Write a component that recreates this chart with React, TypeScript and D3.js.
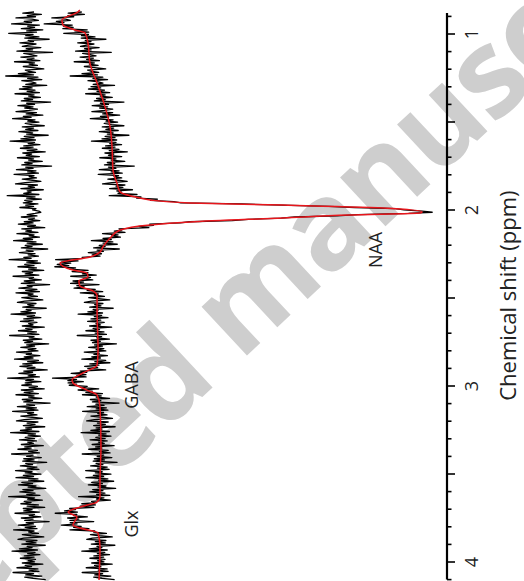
import React from "react";
import * as d3 from "d3";

const W = 524;
const H = 581;

// Fitted spectrum (red): chemical shift (ppm) and amplitude (a.u., NAA peak ≈ 100)
const fitPpm = [0.864, 0.875, 0.92, 0.949, 0.977, 0.994, 1.051, 1.165, 1.278, 1.375, 1.528, 1.642, 1.773, 1.847, 1.898, 1.932, 1.943, 1.96, 1.972, 1.989, 2.011, 2.017, 2.028, 2.045, 2.068, 2.085, 2.114, 2.159, 2.21, 2.239, 2.267, 2.301, 2.341, 2.358, 2.381, 2.403, 2.432, 2.46, 2.489, 2.568, 2.795, 2.881, 2.926, 2.966, 2.983, 3.023, 3.051, 3.119, 3.347, 3.534, 3.631, 3.659, 3.688, 3.716, 3.744, 3.79, 3.807, 3.835, 3.915, 4.102];
const fitAmp = [-6.2, -6.8, -11.7, -11.4, -7.7, -4.6, -3.7, -3.1, -0.9, 0.9, 3.1, 3.7, 4.0, 5.2, 6.2, 12.3, 15.4, 27.7, 56.3, 87.1, 99.1, 98.5, 76.9, 56.3, 27.7, 15.4, 6.2, 3.1, 0.9, 0.0, -3.1, -12.3, -8.3, -4.0, -3.7, -6.5, -6.2, -2.2, -0.9, -0.9, -0.6, -0.9, -5.2, -8.6, -8.3, -4.0, -0.9, 0.0, 0.3, 0.0, 0.0, -0.9, -6.2, -9.8, -7.1, -8.3, -6.2, -0.6, 0.0, -0.3];

// Residual (data − fit), sampled evenly from residualStart to residualEnd ppm,
// listed in units of residualUnit a.u.
const residualStart = 0.875;
const residualEnd = 4.1;
const residualOffset = -21.5;
const residualUnit = 1.5;
const residual = [
  0.8, -1.5, 2.3, -0.6, 1.1, -2.9, 0.4, 1.7, -1.2, 0.3, -3.8, 1.9, -0.5, 0.9, -1.8, 2.6, -0.7, 1.3, -4.4, 0.6,
  -0.9, 1.8, -1.1, 3.9, -0.4, 0.7, -2.1, 1.2, -0.3, -1.6, 2.2, -0.8, 0.5, -2.7, 4.6, -1.3, 0.2, 1.4, -1.9, 0.8,
  -0.6, 2.0, -3.2, 0.9, -0.2, 1.5, -1.4, 0.6, 2.8, -1.0, -0.4, 1.1, -2.4, 0.7, -5.0, 1.6, -0.5, 2.4, -1.7, 0.3,
  1.2, -0.9, 3.4, -1.5, 0.4, -2.2, 1.0, -0.6, 1.9, -3.1, 0.8, -0.3, 2.1, -1.2, 0.5, -1.8, 4.2, -0.7, 0.9, -2.5,
  0.6, -1.1, 1.5, -0.2, -2.9, 1.3, -0.8, 2.6, -1.4, 0.2, -3.6, 1.0, -0.5, 1.8, -1.0, 0.4, 2.9, -1.6, 0.7, -0.9,
  1.6, -2.3, 0.5, -0.7, 3.7, -1.2, 0.8, -1.9, 1.1, -4.1, 0.9, -0.4, 2.0, -1.3, 0.6, -2.0, 1.4, -0.6, 3.1, -1.5,
  0.3, -0.8, 1.9, -2.6, 0.7, -0.3, 2.5, -1.1, 0.4, -1.7, 4.4, -0.9, 0.6, -2.8, 1.2, -0.5, 1.7, -3.3, 0.8, -0.2,
  1.3, -1.6, 0.5, 2.2, -1.0, -3.0, 1.5, -0.4, 0.9, -1.9, 2.7, -0.6, 0.2, -1.3, 1.8, -4.7, 1.0, -0.7, 2.3, -1.1,
  0.4, -1.4, 1.6, -0.9, 0.7, -2.1, 1.2, 0.5, 1.8, 2.2, 1.0, -0.6, 1.4, -1.8, 0.9, -0.3, 2.0, -1.2, 0.6, -2.4,
  1.1, -0.5, 3.0, -1.7, 0.3, -0.9, 1.6, -2.7, 0.8, -0.2, 1.9, -1.4, 0.5, -3.4, 1.2, -0.6, 2.5, -1.0, 0.4, -1.8,
  3.6, -0.8, 0.6, -2.2, 1.0, -0.4, 1.7, -1.3, 0.2, -4.3, 1.5, -0.7, 2.1, -1.1, 0.8, -2.5, 1.3, -0.3, 2.8, -1.6,
  0.5, -1.0, 1.8, -3.5, 0.7, -0.2, 2.3, -1.2, 0.9, -1.8, 4.0, -0.6, 0.4, -2.3, 1.4, -0.9, 1.9, -2.9, 0.6, -0.4,
  1.5, -1.7, 0.3, 2.6, -1.1, -2.6, 1.2, -0.5, 0.8, -1.5, 3.3, -0.8, 0.2, -1.9, 1.1, -3.9, 0.9, -0.6, 2.2, -1.3,
  0.7, -2.0, 1.4, -0.3, 0.6, -1.6, 2.9, -0.9, 0.4, -2.4, 1.3, -0.5, 1.8, -4.2, 0.8, -0.2, 2.4, -1.4, 0.5, -1.1,
  3.8, -0.7, 0.9, -1.9, 1.2, -0.4, 1.6, -2.8, 0.3, -0.8, 2.0, -1.2, 0.6, -3.2, 1.7, -0.5, 2.6, -1.5, 0.4, -2.1,
  1.0, -0.6, 3.5, -1.3, 0.5, -2.3, 1.1, -0.4, 1.9, -4.6, 0.7, -0.9, 2.2, -1.0, 0.3, -1.7, 1.5, -0.2, 2.9, -1.8,
  0.6, -1.2, 1.7, -2.9, 0.8, -0.3, 2.4, -1.6, 0.5, -1.3, 4.1, -0.7, 0.9, -2.6, 1.3, -0.8, 1.6, -3.6, 0.7, -0.5,
  1.4, -1.9, 0.4, 2.5, -1.2, -2.8, 1.6, -0.6, 1.0, -1.4, 3.0, -0.9, 0.3, -2.0, 1.8, -4.0, 1.1, -0.4, 2.1, -1.0,
  0.9, -2.2, 1.3, -0.5, 0.7, -1.8, 2.7, -1.1, 0.2, -2.5, 1.5, -0.3, 1.9, -3.8, 0.6, -0.7, 2.3, -1.3, 0.8, -1.5,
  3.4, -0.9, 0.5, -2.0, 1.4, -0.6, 1.8, -3.0, 0.4, -1.0, 2.2, -1.4, 0.7, -2.9, 1.6, -0.3, 2.8, -1.7, 0.5, -2.4,
  1.2, -0.4, 3.2, -1.5, 0.6, -2.1, 1.0, -0.7, 2.0, -4.4, 0.9, -0.5, 2.5, -1.2, 0.2, -1.9, 1.7, -0.6, 3.0, -1.4,
  0.4, -1.3, 1.9, -3.1, 0.9, -0.2, 2.2, -1.8, 0.6, -1.1, 3.9, -0.8, 0.7, -2.4, 1.1, -1.0, 1.4, -3.4, 0.8, -0.3,
  1.7, -1.6, 0.2, 2.8, -1.3, -2.5, 1.4, -0.8, 1.2, -1.7, 3.1, -0.6, 0.4, -2.2, 1.5, -3.7, 1.0, -0.5, 2.0, -1.2,
  0.8, -2.0, 1.1, -0.4, 0.9, -1.6, 2.6, -1.0, 0.3, -2.7, 1.6, -0.2, 1.8, -3.5, 0.7, -0.9, 2.4, -1.1, 0.6, 3.2,
];

// Axis
const axisDomain = [0.88, 4.1];
const majorTicks = [1, 1.5, 2, 2.5, 3, 3.5, 4];
const minorTicks = [0.9, 1.1, 1.2, 1.3, 1.4, 1.6, 1.7, 1.8, 1.9, 2.1, 2.2, 2.3, 2.4, 2.6, 2.7, 2.8, 2.9, 3.1, 3.2, 3.3, 3.4, 3.6, 3.7, 3.8, 3.9, 4.1];
const tickLabels = [1, 2, 3, 4];
const axisTitle = "Chemical shift (ppm)";

// Peak annotations
const peakNames = ["NAA", "GABA", "Glx"];
const peakPpm = [2.227, 2.994, 3.784];
const peakAmp = [86.8, 11.7, 11.7];

const watermark = ["Accepted", "manuscript"];

export default function App() {
  const x = d3.scaleLinear().domain([0, 100]).range([100, 425]);
  const y = d3.scaleLinear().domain([1, 4]).range([34, 562]);

  const n = residual.length;
  const step = (residualEnd - residualStart) / (n - 1);
  const gridPpm = residual.map((_, i) => residualStart + i * step);
  const last = fitPpm.length - 1;
  const fitAt = (p: number) => {
    const i = d3.bisectLeft(fitPpm, p);
    if (i <= 0) return fitAmp[0];
    if (i > last) return fitAmp[last];
    const t = (p - fitPpm[i - 1]) / (fitPpm[i] - fitPpm[i - 1]);
    return fitAmp[i - 1] + t * (fitAmp[i] - fitAmp[i - 1]);
  };

  const dataPts: [number, number][] = gridPpm.map((p, i) => [p, fitAt(p) + residual[i] * residualUnit]);
  const resPts: [number, number][] = gridPpm.map((p, i) => [p, residualOffset + residual[i] * residualUnit]);
  const fitPts: [number, number][] = fitPpm.map((p, i) => [p, fitAmp[i]]);

  const lin = d3.line<[number, number]>().x((d) => x(d[1])).y((d) => y(d[0]));
  const smooth = d3
    .line<[number, number]>()
    .x((d) => x(d[1]))
    .y((d) => y(d[0]))
    .curve(d3.curveMonotoneY);

  const axisX = 447;
  const font = "'Open Sans', 'Liberation Sans', sans-serif";

  return (
    <svg
      width={W}
      height={H}
      style={{ position: "absolute", left: 0, top: 0, display: "block", background: "#fff" }}
    >
      {/* watermark */}
      <g transform="translate(240,362) rotate(-43)" fill="#cecece" fontFamily={font} fontWeight="bold" fontSize={122} letterSpacing={-2}>
        <text x={-30} y={0} textAnchor="end">{watermark[0]}</text>
        <text x={0} y={0} textAnchor="start">{watermark[1]}</text>
      </g>

      {/* residual */}
      <path d={lin(resPts) || ""} fill="none" stroke="#000" strokeWidth={1.3} strokeLinejoin="round" />
      {/* data */}
      <path d={lin(dataPts) || ""} fill="none" stroke="#000" strokeWidth={1.3} strokeLinejoin="round" />
      {/* fit */}
      <path d={smooth(fitPts) || ""} fill="none" stroke="#e8161c" strokeWidth={1.5} />

      {/* peak labels */}
      {peakNames.map((name, i) => (
        <text
          key={name}
          transform={`translate(${x(peakAmp[i])},${y(peakPpm[i])}) rotate(-90)`}
          textAnchor="middle"
          fontFamily={font}
          fontSize={18}
          fill="#222"
        >
          {name}
        </text>
      ))}

      {/* axis */}
      <line x1={axisX} x2={axisX} y1={y(axisDomain[0])} y2={y(axisDomain[1])} stroke="#000" strokeWidth={2.2} />
      {majorTicks.map((t) => (
        <line key={"M" + t} x1={axisX} x2={axisX + 8} y1={y(t)} y2={y(t)} stroke="#000" strokeWidth={1.6} />
      ))}
      {minorTicks.map((t) => (
        <line key={"m" + t} x1={axisX} x2={axisX + 4.5} y1={y(t)} y2={y(t)} stroke="#000" strokeWidth={1.6} />
      ))}
      {tickLabels.map((t) => (
        <text
          key={"l" + t}
          transform={`translate(478,${y(t)}) rotate(-90)`}
          textAnchor="middle"
          fontFamily={font}
          fontSize={18}
          fill="#222"
        >
          {t}
        </text>
      ))}
      <text
        transform={`translate(516,${(y(1.75) + y(2.2)) / 2 + 90}) rotate(-90)`}
        textAnchor="middle"
        fontFamily={font}
        fontSize={22}
        fill="#222"
      >
        {axisTitle}
      </text>
    </svg>
  );
}
